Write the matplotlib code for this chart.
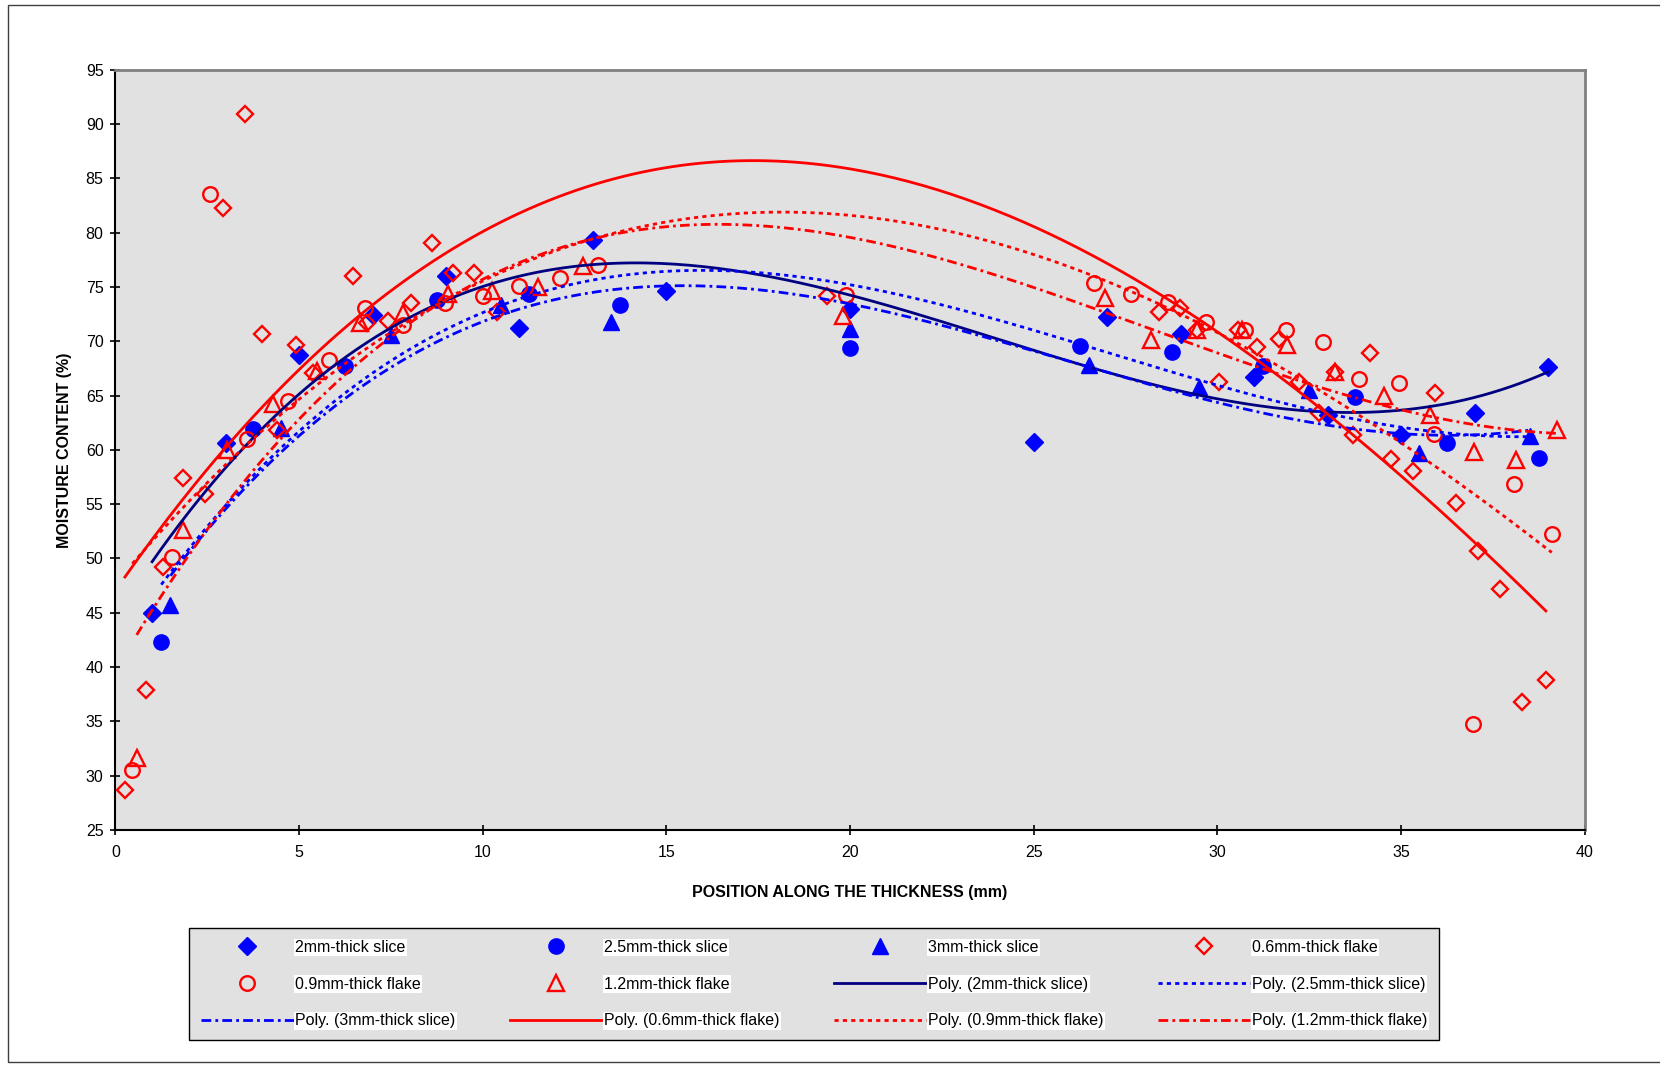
import numpy as np
import matplotlib
matplotlib.use("Agg")
import matplotlib.pyplot as plt
from matplotlib.patches import Rectangle

plt.rcParams['font.family'] = ['Liberation Sans', 'DejaVu Sans']

# measured moisture content (%) vs position along thickness (mm)
slice2_x = [1, 3, 5, 7, 9, 11, 13, 15, 20, 25, 27, 29, 31, 33, 35, 37, 39]
slice2_y = [45.0, 60.6, 68.7, 72.4, 76.0, 71.2, 79.3, 74.6, 73.0, 60.7, 72.2, 70.7,
            66.7, 63.2, 61.4, 63.4, 67.6]

slice25_x = [1.25, 3.75, 6.25, 8.75, 11.25, 13.75, 20, 26.25, 28.75, 31.25, 33.75,
             36.25, 38.75]
slice25_y = [42.3, 61.9, 67.7, 73.8, 74.4, 73.3, 69.4, 69.6, 69.0, 67.7, 64.9, 60.6, 59.3]

slice3_x = [1.5, 4.5, 7.5, 10.5, 13.5, 20, 26.5, 29.5, 32.5, 35.5, 38.5]
slice3_y = [45.7, 62.0, 70.6, 73.3, 71.8, 71.1, 67.8, 65.8, 65.5, 59.7, 61.3]

flake06_x = [0.26, 0.84, 1.3, 1.85, 2.44, 2.94, 3.54, 3.98, 4.39, 4.92, 5.39, 6.48,
             6.84, 7.43, 8.06, 8.61, 9.2, 9.76, 10.38, 19.38, 28.42, 28.98, 29.43,
             30.05, 30.57, 31.07, 31.68, 32.23, 32.77, 33.2, 33.68, 34.15, 34.72,
             35.31, 35.92, 36.5, 37.1, 37.7, 38.3, 38.94]
flake06_y = [28.7, 37.9, 49.2, 57.4, 55.9, 82.3, 90.9, 70.65, 61.8, 69.7, 67.1, 76.0,
             71.7, 71.9, 73.5, 79.1, 76.3, 76.3, 72.7, 74.2, 72.7, 73.1, 71.0, 66.3,
             71.0, 69.5, 70.2, 66.3, 63.4, 67.2, 61.4, 68.9, 59.2, 58.1, 65.2, 55.1,
             50.7, 47.2, 36.8, 38.8]

flake09_x = [0.46, 1.53, 2.58, 3.59, 4.7, 5.82, 6.8, 7.84, 8.97, 10.0, 11.0, 12.1,
             13.14, 19.9, 26.65, 27.66, 28.66, 29.7, 30.75, 31.86, 32.88, 33.86, 34.93,
             35.9, 36.96, 38.08, 39.1]
flake09_y = [30.5, 50.1, 83.6, 61.0, 64.5, 68.3, 73.05, 71.5, 73.5, 74.2, 75.1, 75.8,
             77.0, 74.3, 75.35, 74.4, 73.65, 71.8, 71.05, 71.0, 69.9, 66.5, 66.2, 61.45,
             34.8, 56.9, 52.3]

flake12_x = [0.58, 1.85, 3.03, 4.28, 5.5, 6.66, 7.84, 9.06, 10.24, 11.51, 12.72, 19.81,
             26.94, 28.19, 29.43, 30.67, 31.88, 33.2, 34.53, 35.78, 36.99, 38.13, 39.25]
flake12_y = [31.6, 52.6, 60.0, 64.2, 67.3, 71.7, 72.6, 74.4, 74.6, 75.0, 76.9, 72.3,
             74.0, 70.1, 71.0, 71.0, 69.7, 67.2, 65.0, 63.2, 59.8, 59.1, 61.8]

names = ["2mm-thick slice", "2.5mm-thick slice", "3mm-thick slice",
         "0.6mm-thick flake", "0.9mm-thick flake", "1.2mm-thick flake"]

fig = plt.figure(figsize=(16.6, 10.65), dpi=100)
fig.patches.append(Rectangle((8 / 1660, 0.003), 1.0, 1 - 0.003 - 5 / 1065,
                             transform=fig.transFigure, fill=False,
                             edgecolor="#404040", linewidth=1.0))
ax = fig.add_axes([0.0695, 0.2207, 0.8852, 0.7137])
ax.set_facecolor("#E1E1E1")

dot = (0, (1.5, 1.5))
dashdot = (0, (3.5, 1.5, 1.0, 1.5))
series = [
    (slice2_x, slice2_y, dict(marker="D", ms=9, color="#0000FF", mec="#0000FF"),
     dict(color="#000080", ls="-")),
    (slice25_x, slice25_y, dict(marker="o", ms=11, color="#0000FF", mec="#0000FF"),
     dict(color="#0000FF", ls=dot)),
    (slice3_x, slice3_y, dict(marker="^", ms=12, color="#0000FF", mec="#0000FF"),
     dict(color="#0000FF", ls=dashdot)),
    (flake06_x, flake06_y, dict(marker="D", ms=8.5, mfc="none", mec="#FF0000", mew=1.7),
     dict(color="#FF0000", ls="-")),
    (flake09_x, flake09_y, dict(marker="o", ms=10.5, mfc="none", mec="#FF0000", mew=1.7),
     dict(color="#FF0000", ls=dot)),
    (flake12_x, flake12_y, dict(marker="^", ms=11, mfc="none", mec="#FF0000", mew=1.7),
     dict(color="#FF0000", ls=dashdot)),
]

point_handles = []
trend_handles = []
for (x, y, mk, ln), name in zip(series, names):
    h, = ax.plot(x, y, ls="none", label=name, zorder=3, **mk)
    point_handles.append(h)
# third-order polynomial trendlines fitted to each series
for (x, y, mk, ln), name in zip(series, names):
    coef = np.polyfit(x, y, 3)
    xx = np.linspace(min(x), max(x), 300)
    t, = ax.plot(xx, np.polyval(coef, xx), lw=2.0, label="Poly. (%s)" % name,
                 zorder=4, **ln)
    trend_handles.append(t)

ax.set_xlim(0, 40)
ax.set_ylim(25, 95)
ax.set_xticks(np.arange(0, 41, 5))
ax.set_yticks(np.arange(25, 96, 5))
ax.tick_params(direction="inout", length=7, width=1.2, labelsize=11.5, colors="black")
ax.tick_params(axis="x", pad=7)
ax.tick_params(axis="y", pad=5)
for s in ["left", "bottom"]:
    ax.spines[s].set_color("black")
    ax.spines[s].set_linewidth(1.5)
for s in ["top", "right"]:
    ax.spines[s].set_color("#808080")
    ax.spines[s].set_linewidth(2)

ax.set_xlabel("POSITION ALONG THE THICKNESS (mm)", fontsize=11.5, fontweight="bold",
              labelpad=18)
ax.set_ylabel("MOISTURE CONTENT (%)", fontsize=11.5, fontweight="bold", labelpad=10)

items = point_handles + trend_handles
order = [4 * r + c for c in range(4) for r in range(3)]
handles = [items[i] for i in order]
leg = fig.legend(handles, [h.get_label() for h in handles], ncol=4,
                 loc="upper left", bbox_to_anchor=(189 / 1660, 1 - 928 / 1065),
                 frameon=True, fontsize=11.5, handlelength=5.8, handletextpad=0.1,
                 columnspacing=3.4, labelspacing=1.35, borderpad=0.75,
                 borderaxespad=0, fancybox=False, edgecolor="black",
                 facecolor="#E1E1E1", framealpha=1)
leg.get_frame().set_linewidth(1.0)
for txt in leg.get_texts():
    txt.set_bbox(dict(facecolor="white", edgecolor="none", pad=1))

fig.savefig("out.png", dpi=100)
